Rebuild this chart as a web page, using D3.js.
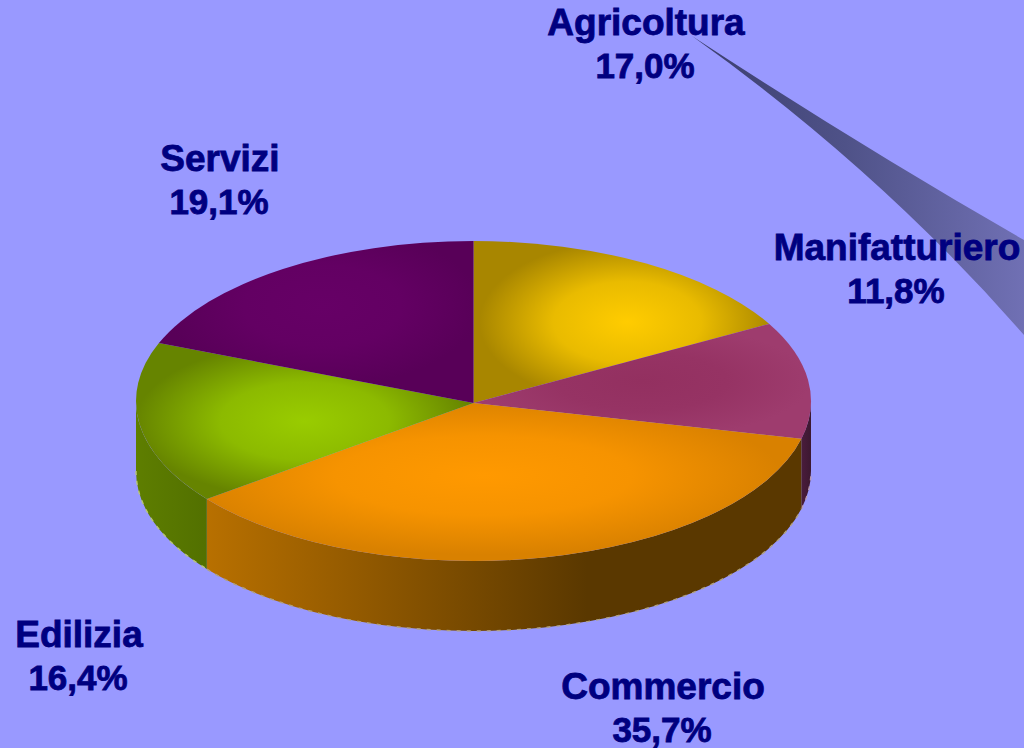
<!DOCTYPE html>
<html><head><meta charset="utf-8">
<script src="https://cdn.jsdelivr.net/npm/d3@7/dist/d3.min.js"></script>
<style>html,body{margin:0;padding:0;background:#9999ff;overflow:hidden}svg{display:block}</style>
</head><body><svg id="c" width="1024" height="748"></svg>
<script>
const categories = ["Agricoltura","Manifatturiero","Commercio","Edilizia","Servizi"];
const shares = [17.0,11.8,35.7,16.4,19.1];
const shareLabels = ["17,0%","11,8%","35,7%","16,4%","19,1%"];
const topCentre = ["#ffcc00","#933060","#ff9900","#99cc00","#660066"];
const topEdge = ["#a88600","#9e3c6e","#d98100","#668400","#580058"];
const wallStops = [["#a88600","#a88600"],["#4a1c3c","#3c1830"],["#b87000","#5a3800"],["#5e7e00","#527000"],["#660066","#660066"]];
const fringe = ["#c8b060","#b89ab0","#b0a080","#b8c47c","#a080a0"];

const W=1024,H=748, cx=473.5, cy=401, apexY=403, rx=337.5, ry=160, depth=70;
const labelPos=[[646,35],[897,260],[663,699],[79,647],[220,171]];
const focus=[[.52,.5],[.5,.5],[.465,.46],[.5,.5],[.52,.4]];

const svg=d3.select("#c");
const defs=svg.append("defs");
svg.append("rect").attr("width",W).attr("height",H).attr("fill","#9999ff");

// stray exploded-wedge artefact of the source picture
const strayG=defs.append("linearGradient").attr("id","stray").attr("gradientUnits","userSpaceOnUse")
  .attr("x1",700).attr("x2",1024).attr("y1",0).attr("y2",0);
strayG.append("stop").attr("offset",0).attr("stop-color","#3c3f70");
strayG.append("stop").attr("offset",.45).attr("stop-color","#4f5288");
strayG.append("stop").attr("offset",1).attr("stop-color","#7070b4");
svg.append("path").attr("fill","url(#stray)")
  .attr("d","M692,36 Q860,146 1024,240 L1024,335 Q880,170 692,36Z");

const pie=d3.pie().sort(null).value(d=>d).startAngle(0).endAngle(2*Math.PI);
const arcs=pie(shares);
const px=a=>cx+rx*Math.sin(a), py=a=>cy-ry*Math.cos(a);
function ellArc(a0,a1,dy,sweep){
  const large=Math.abs(a1-a0)>Math.PI?1:0;
  return `A${rx},${ry} 0 ${large} ${sweep} ${px(a1)},${py(a1)+dy}`;
}
// walls
arcs.forEach((d,i)=>{
  const a0=Math.max(d.startAngle,Math.PI/2), a1=Math.min(d.endAngle,3*Math.PI/2);
  if(a1<=a0) return;
  const g=defs.append("linearGradient").attr("id","w"+i).attr("gradientUnits","userSpaceOnUse")
    .attr("x1",Math.min(px(a0),px(a1))).attr("x2",Math.max(px(a0),px(a1))).attr("y1",0).attr("y2",0);
  g.append("stop").attr("offset",0).attr("stop-color",wallStops[i][0]);
  if(i===2) g.append("stop").attr("offset",.64).attr("stop-color",wallStops[i][1]);
  g.append("stop").attr("offset",1).attr("stop-color",wallStops[i][1]);
  svg.append("path").attr("fill",`url(#w${i})`)
    .attr("d",`M${px(a0)},${py(a0)}${ellArc(a0,a1,0,1)}L${px(a1)},${py(a1)+depth}${ellArc(a1,a0,depth,0)}Z`);
  svg.append("path").attr("fill","none").attr("stroke",fringe[i]).attr("stroke-width",1.4)
    .attr("stroke-dasharray","4 6")
    .attr("d",`M${px(a1)},${py(a1)+depth}${ellArc(a1,a0,depth,0)}`);
});
// tops
arcs.forEach((d,i)=>{
  const g=defs.append("radialGradient").attr("id","t"+i)
    .attr("cx",focus[i][0]).attr("cy",focus[i][1]).attr("r",.5);
  g.append("stop").attr("offset",0).attr("stop-color",topCentre[i]);
  g.append("stop").attr("offset",.5).attr("stop-color",d3.interpolateRgb(topCentre[i],topEdge[i])(.25));
  g.append("stop").attr("offset",1).attr("stop-color",topEdge[i]);
  svg.append("path").attr("fill",`url(#t${i})`)
    .attr("d",`M${cx},${apexY}L${px(d.startAngle)},${py(d.startAngle)}${ellArc(d.startAngle,d.endAngle,0,1)}Z`);
});
// labels
categories.forEach((c,i)=>{
  const t=svg.append("text").attr("text-anchor","middle")
    .attr("font-family","'Liberation Sans',Arial,sans-serif").attr("font-weight","bold")
    .attr("fill","#000080").attr("stroke","#000080").attr("stroke-width",.8);
  t.append("tspan").attr("font-size",37).attr("x",labelPos[i][0]).attr("y",labelPos[i][1]).text(c);
  t.append("tspan").attr("font-size",35).attr("x",labelPos[i][0]-1).attr("y",labelPos[i][1]+43).text(shareLabels[i]);
});
</script></body></html>
